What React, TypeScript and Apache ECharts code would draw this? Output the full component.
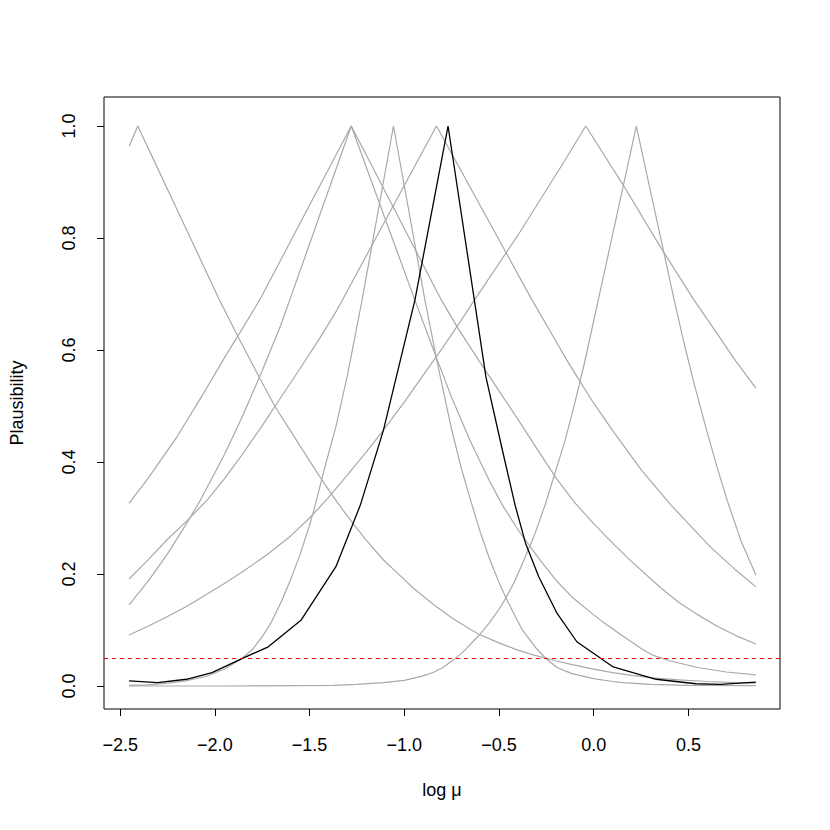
import React, { useEffect, useRef } from "react";
import * as echarts from "echarts";

const xTicks = [-2.5, -2.0, -1.5, -1.0, -0.5, 0.0, 0.5];
const yTicks = [0.0, 0.2, 0.4, 0.6, 0.8, 1.0];
const threshold = 0.05;
const xName = "log μ";
const yName = "Plausibility";

const curveA: [number, number][] = [
  [-2.453, 0.964], [-2.407, 1.0], [-2.3, 0.923], [-2.2, 0.851], [-2.1, 0.779], [-1.977, 0.69],
  [-1.875, 0.622], [-1.765, 0.551], [-1.684, 0.5], [-1.6, 0.455], [-1.5, 0.402], [-1.439, 0.37],
  [-1.35, 0.326], [-1.266, 0.288], [-1.2, 0.26], [-1.11, 0.225], [-1.022, 0.197], [-0.95, 0.174],
  [-0.848, 0.146], [-0.75, 0.122], [-0.65, 0.101], [-0.604, 0.092], [-0.5, 0.077], [-0.4, 0.064],
  [-0.325, 0.056], [-0.2, 0.045], [-0.115, 0.038], [0.0, 0.03], [0.1, 0.024], [0.2, 0.019],
  [0.329, 0.014], [0.45, 0.011], [0.6, 0.008], [0.75, 0.006], [0.856, 0.005],
];
const curveB: [number, number][] = [
  [-2.453, 0.326], [-2.35, 0.372], [-2.2, 0.445], [-2.05, 0.528], [-1.95, 0.586], [-1.875, 0.627],
  [-1.764, 0.689], [-1.28, 1.0], [-0.804, 0.689], [-0.717, 0.639], [-0.6, 0.578], [-0.5, 0.527],
  [-0.4, 0.476], [-0.3, 0.424], [-0.2, 0.372], [-0.142, 0.346], [-0.097, 0.326], [0.0, 0.29],
  [0.1, 0.255], [0.2, 0.222], [0.355, 0.175], [0.45, 0.149], [0.55, 0.127], [0.65, 0.107],
  [0.75, 0.09], [0.856, 0.075],
];
const curveC: [number, number][] = [
  [-2.453, 0.145], [-2.35, 0.188], [-2.25, 0.236], [-2.15, 0.29], [-2.076, 0.332], [-1.95, 0.413],
  [-1.85, 0.485], [-1.75, 0.563], [-1.65, 0.646], [-1.605, 0.689], [-1.28, 1.0], [-0.944, 0.689],
  [-0.85, 0.604], [-0.75, 0.515], [-0.65, 0.436], [-0.55, 0.366], [-0.482, 0.323], [-0.4, 0.279],
  [-0.29, 0.228], [-0.194, 0.187], [-0.115, 0.159], [0.0, 0.127], [0.05, 0.114], [0.15, 0.09],
  [0.25, 0.067], [0.312, 0.055], [0.4, 0.045], [0.55, 0.033], [0.7, 0.025], [0.856, 0.02],
];
const curveD: [number, number][] = [
  [-2.453, 0.001], [-2.35, 0.002], [-2.25, 0.005], [-2.155, 0.009], [-2.05, 0.017], [-1.95, 0.03],
  [-1.857, 0.049], [-1.8, 0.066], [-1.75, 0.088], [-1.7, 0.115], [-1.65, 0.15], [-1.6, 0.19],
  [-1.55, 0.235], [-1.5, 0.287], [-1.474, 0.318], [-1.42, 0.39], [-1.361, 0.463], [-1.3, 0.555],
  [-1.223, 0.689], [-1.057, 1.0], [-0.891, 0.689], [-0.82, 0.568], [-0.75, 0.458], [-0.7, 0.39],
  [-0.65, 0.332], [-0.6, 0.276], [-0.551, 0.228], [-0.5, 0.185], [-0.464, 0.158], [-0.42, 0.128],
  [-0.377, 0.1], [-0.3, 0.066], [-0.255, 0.05], [-0.194, 0.033], [-0.115, 0.022], [0.0, 0.013],
  [0.1, 0.008], [0.155, 0.006], [0.3, 0.003], [0.5, 0.001], [0.856, 0.0005],
];
const curveE: [number, number][] = [
  [-2.453, 0.191], [-2.35, 0.226], [-2.25, 0.262], [-2.15, 0.294], [-2.041, 0.332], [-1.95, 0.37],
  [-1.85, 0.416], [-1.75, 0.465], [-1.65, 0.516], [-1.55, 0.567], [-1.45, 0.619], [-1.361, 0.668],
  [-0.83, 1.0], [-0.325, 0.689], [-0.2, 0.616], [-0.142, 0.582], [-0.08, 0.548], [0.0, 0.505],
  [0.1, 0.456], [0.251, 0.386], [0.408, 0.323], [0.5, 0.29], [0.617, 0.248], [0.75, 0.207],
  [0.856, 0.177],
];
const curveG: [number, number][] = [
  [-2.453, 0.091], [-2.35, 0.107], [-2.25, 0.124], [-2.15, 0.142], [-2.067, 0.159], [-1.95, 0.183],
  [-1.85, 0.205], [-1.718, 0.236], [-1.6, 0.268], [-1.5, 0.3], [-1.404, 0.335], [-1.3, 0.377],
  [-1.2, 0.418], [-1.11, 0.457], [-1.0, 0.507], [-0.9, 0.555], [-0.8, 0.603], [-0.7, 0.653],
  [-0.63, 0.689], [-0.4, 0.805], [-0.168, 0.93], [-0.042, 1.0], [0.155, 0.895], [0.356, 0.782],
  [0.53, 0.689], [0.65, 0.63], [0.75, 0.58], [0.856, 0.532],
];
const curveH: [number, number][] = [
  [-2.453, 0.0], [-2.0, 0.0], [-1.6, 0.0005], [-1.371, 0.001], [-1.25, 0.003], [-1.11, 0.006],
  [-1.0, 0.01], [-0.9, 0.018], [-0.848, 0.024], [-0.8, 0.032], [-0.734, 0.048], [-0.68, 0.064],
  [-0.604, 0.091], [-0.55, 0.113], [-0.5, 0.137], [-0.464, 0.157], [-0.42, 0.185], [-0.368, 0.225],
  [-0.31, 0.272], [-0.255, 0.325], [-0.2, 0.385], [-0.15, 0.44], [-0.1, 0.505], [-0.05, 0.575],
  [0.024, 0.689], [0.225, 1.0], [0.425, 0.689], [0.48, 0.608], [0.53, 0.54], [0.6, 0.452],
  [0.652, 0.39], [0.705, 0.331], [0.78, 0.257], [0.856, 0.198],
];
const curveBlack: [number, number][] = [
  [-2.453, 0.009], [-2.303, 0.006], [-2.15, 0.012], [-2.015, 0.024], [-1.857, 0.049], [-1.718, 0.07],
  [-1.544, 0.118], [-1.361, 0.213], [-1.232, 0.323], [-1.11, 0.457], [-0.944, 0.689], [-0.769, 1.0],
  [-0.63, 0.689], [-0.569, 0.552], [-0.482, 0.421], [-0.415, 0.323], [-0.36, 0.255], [-0.29, 0.195],
  [-0.194, 0.13], [-0.089, 0.079], [0.103, 0.034], [0.329, 0.012], [0.539, 0.004], [0.669, 0.003],
  [0.856, 0.007],
];

const grayCurves = [curveA, curveB, curveC, curveD, curveE, curveG, curveH];

const FONT = "'Liberation Sans', Arial, Helvetica, sans-serif";

const fmtX = (v: number) => (v < 0 ? "\u2212" + Math.abs(v).toFixed(1) : v.toFixed(1));

export default function App() {
  const ref = useRef<HTMLDivElement>(null);
  useEffect(() => {
    const chart = echarts.init(ref.current!, null, { renderer: "svg" });
    const series: any[] = grayCurves.map((d, i) => ({
      name: "g" + i,
      type: "line",
      data: d,
      showSymbol: false,
      symbol: "none",
      silent: true,
      lineStyle: { color: "#a9a9a9", width: 1.2 },
      z: 2,
    }));
    series.push({
      name: "black",
      type: "line",
      data: curveBlack,
      showSymbol: false,
      symbol: "none",
      silent: true,
      lineStyle: { color: "#000000", width: 1.3 },
      z: 3,
      markLine: {
        silent: true,
        symbol: "none",
        label: { show: false },
        lineStyle: { color: "#ff0000", type: [4, 4], width: 1.2 },
        data: [{ yAxis: threshold }],
      },
    });
    chart.setOption({
      animation: false,
      backgroundColor: "#ffffff",
      grid: {
        left: 98,
        right: 50,
        top: 97,
        bottom: 121,
        show: true,
        borderColor: "#000",
        borderWidth: 1,
        backgroundColor: "transparent",
      },
      xAxis: {
        type: "value",
        min: -2.5853,
        max: 0.9835,
        name: xName,
        nameLocation: "middle",
        nameGap: 72,
        nameTextStyle: { fontFamily: FONT, fontSize: 18, color: "#000" },
        axisLine: { show: false, onZero: false },
        axisTick: {
          show: true,
          customValues: xTicks,
          length: 7,
          inside: false,
          lineStyle: { color: "#000", width: 1 },
        },
        axisLabel: {
          customValues: xTicks,
          formatter: (v: number) => fmtX(v),
          margin: 27,
          fontSize: 18,
          color: "#000",
          fontFamily: FONT,
        },
        splitLine: { show: false },
      },
      yAxis: {
        type: "value",
        min: -0.0411,
        max: 1.0518,
        name: yName,
        nameLocation: "middle",
        nameGap: 78,
        nameTextStyle: { fontFamily: FONT, fontSize: 18, color: "#000" },
        axisLine: { show: false, onZero: false },
        axisTick: {
          show: true,
          customValues: yTicks,
          length: 7,
          inside: false,
          lineStyle: { color: "#000", width: 1 },
        },
        axisLabel: {
          customValues: yTicks,
          formatter: (v: number) => v.toFixed(1),
          rotate: 90,
          margin: 26,
          fontSize: 18,
          color: "#000",
          fontFamily: FONT,
        },
        splitLine: { show: false },
      },
      series,
    });
    return () => chart.dispose();
  }, []);
  return (
    <div
      ref={ref}
      style={{ position: "fixed", left: 0, top: 0, width: 830, height: 830, background: "#fff" }}
    />
  );
}
